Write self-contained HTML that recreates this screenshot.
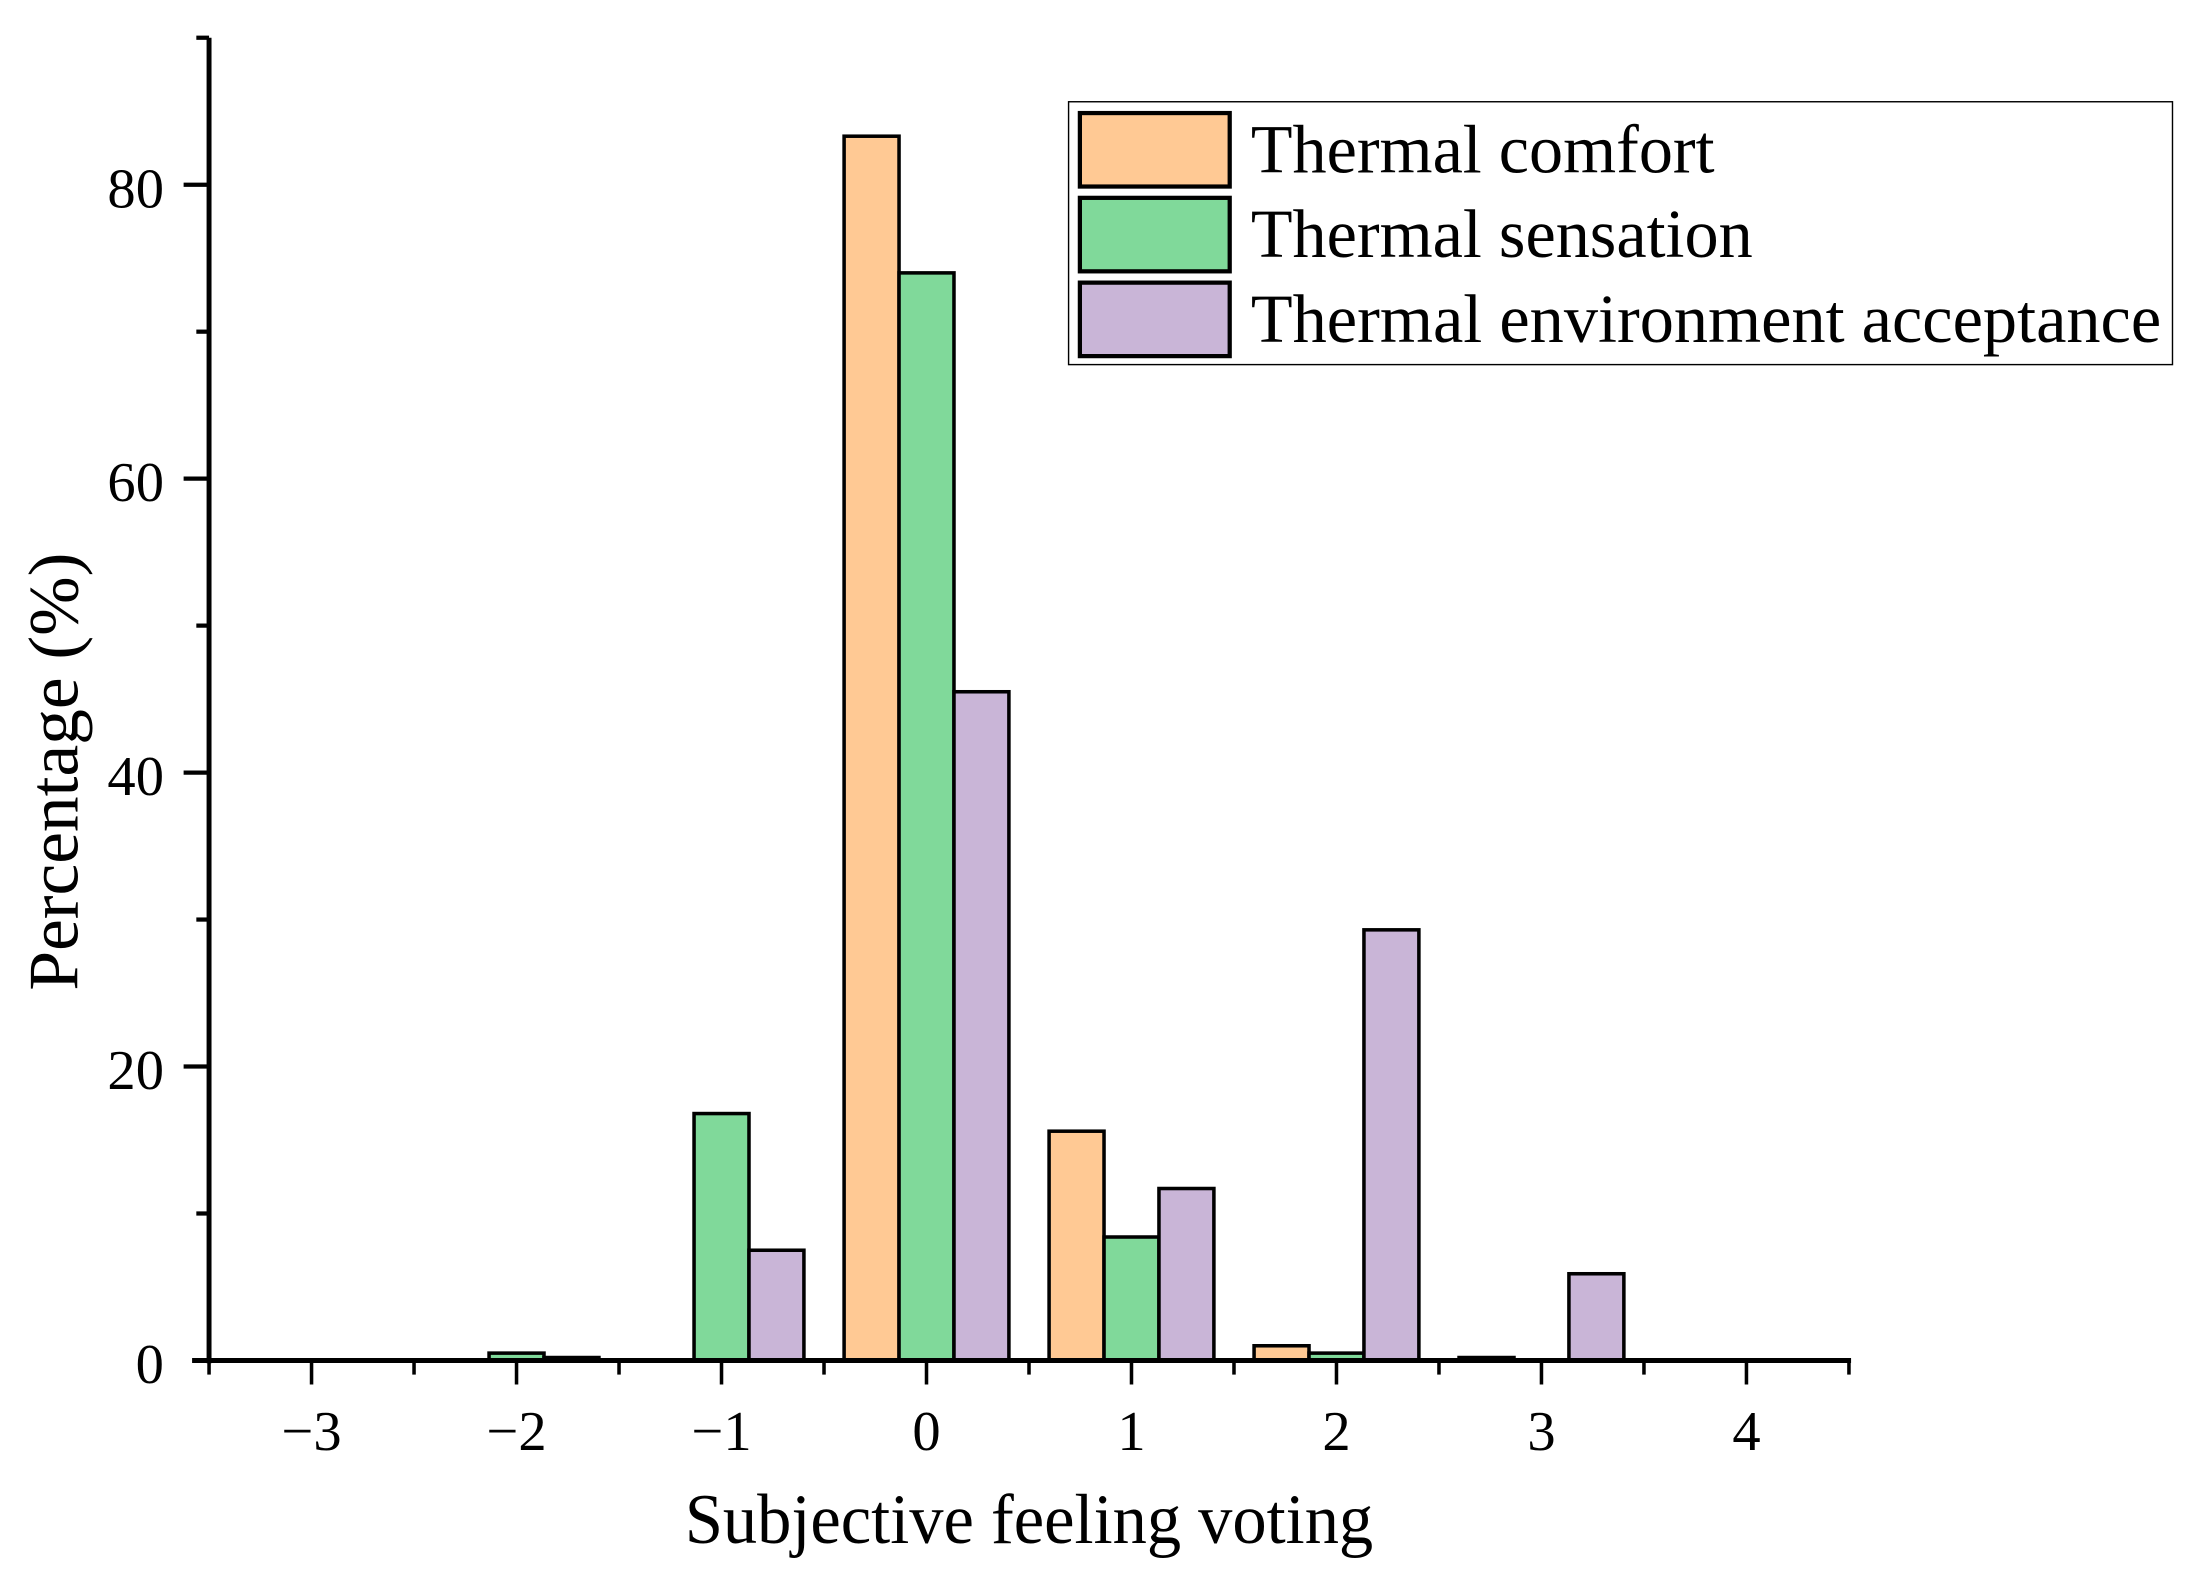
<!DOCTYPE html>
<html><head><meta charset="utf-8">
<style>html,body{margin:0;padding:0;background:#fff}svg{display:block}</style>
</head><body>
<svg id="chart" width="2205" height="1587" viewBox="0 0 1560 1123" preserveAspectRatio="none" xmlns="http://www.w3.org/2000/svg" font-family="'Liberation Serif', serif">
<g id="bars"></g>
<g id="axes"></g>
<text x="728" y="1092" font-size="50" text-anchor="middle" textLength="487" lengthAdjust="spacingAndGlyphs">Subjective feeling voting</text>
<text transform="translate(55,546) rotate(-90)" font-size="50" text-anchor="middle" textLength="310" lengthAdjust="spacingAndGlyphs">Percentage (%)</text>
<g>
<rect x="756" y="72" width="781" height="186" fill="#fff" stroke="#000" stroke-width="1"/>
<rect x="764" y="80" width="106" height="52" fill="#FFC994" stroke="#000" stroke-width="3"/>
<rect x="764" y="140" width="106" height="52" fill="#80D99A" stroke="#000" stroke-width="3"/>
<rect x="764" y="200" width="106" height="52" fill="#C9B5D7" stroke="#000" stroke-width="3"/>
<text x="885" y="122" font-size="49" textLength="328" lengthAdjust="spacingAndGlyphs">Thermal comfort</text>
<text x="885" y="182" font-size="49" textLength="355" lengthAdjust="spacingAndGlyphs">Thermal sensation</text>
<text x="885" y="242" font-size="49" textLength="644" lengthAdjust="spacingAndGlyphs">Thermal environment acceptance</text>
</g>
</svg>
<script>
const categories = [-3, -2, -1, 0, 1, 2, 3, 4];
const comfort = [0, 0, 0, 83.3, 15.6, 1.0, 0.2, 0];
const sensation = [0, 0.5, 16.8, 74.0, 8.4, 0.5, 0, 0];
const acceptance = [0, 0.2, 7.5, 45.5, 11.7, 29.3, 5.9, 0];
const yTicks = [0, 20, 40, 60, 80];
const xTickLabels = ["\u22123", "\u22122", "\u22121", "0", "1", "2", "3", "4"];

const NS = "http://www.w3.org/2000/svg";
const X0 = 147.9, X1 = 1308.1, Y0 = 962.7, YT = 26.7;
const xMin = -3.5, xMax = 4.5, yMax = 90;
const xs = v => X0 + (v - xMin) / (xMax - xMin) * (X1 - X0);
const ys = v => Y0 - v / yMax * (Y0 - YT);
const bw = 0.268;
function mk(tag, attrs, parent) {
  const e = document.createElementNS(NS, tag);
  for (const k in attrs) e.setAttribute(k, attrs[k]);
  parent.appendChild(e);
  return e;
}
const bars = document.getElementById('bars');
const series = [[comfort, '#FFC994', -1, 'comfort'], [sensation, '#80D99A', 0, 'sensation'], [acceptance, '#C9B5D7', 1, 'acceptance']];
series.forEach(([vals, col, off, nm]) => {
  categories.forEach((c, i) => {
    const v = vals[i];
    if (v <= 0) return;
    const xl = xs(c + off * bw - bw / 2), xr = xs(c + off * bw + bw / 2);
    const r = mk('rect', {x: xl, y: ys(v), width: xr - xl, height: Y0 - ys(v), fill: col, stroke: '#000', 'stroke-width': 2.5}, bars);
    
    
  });
});
const ax = document.getElementById('axes');
const yl = mk('line', {x1: X0, y1: YT, x2: X0, y2: Y0 + 2, stroke: '#000', 'stroke-width': 3.5}, ax);


const xl = mk('line', {x1: X0 - 12, y1: Y0, x2: X1 + 1.5, y2: Y0, stroke: '#000', 'stroke-width': 3.5}, ax);


for (let v = 10; v <= yMax; v += 10) {
  const major = v % 20 === 0;
  mk('line', {x1: X0 - (major ? 18 : 9), y1: ys(v), x2: X0, y2: ys(v), stroke: '#000', 'stroke-width': 3}, ax);
}
yTicks.forEach(v => {
  const t = mk('text', {x: 116, y: ys(v) + 16, 'font-size': 40, 'text-anchor': 'end'}, ax);
  
  
  t.textContent = v;
});
for (let v = -3.5; v <= 4.5; v += 0.5) {
  const major = Number.isInteger(v);
  mk('line', {x1: xs(v), y1: Y0, x2: xs(v), y2: Y0 + (major ? 17 : 10), stroke: '#000', 'stroke-width': 2.5}, ax);
}
categories.forEach((c, i) => {
  const t = mk('text', {x: xs(c), y: 1026, 'font-size': 40, 'text-anchor': 'middle'}, ax);
  
  
  t.textContent = xTickLabels[i];
});
</script>
</body></html>
